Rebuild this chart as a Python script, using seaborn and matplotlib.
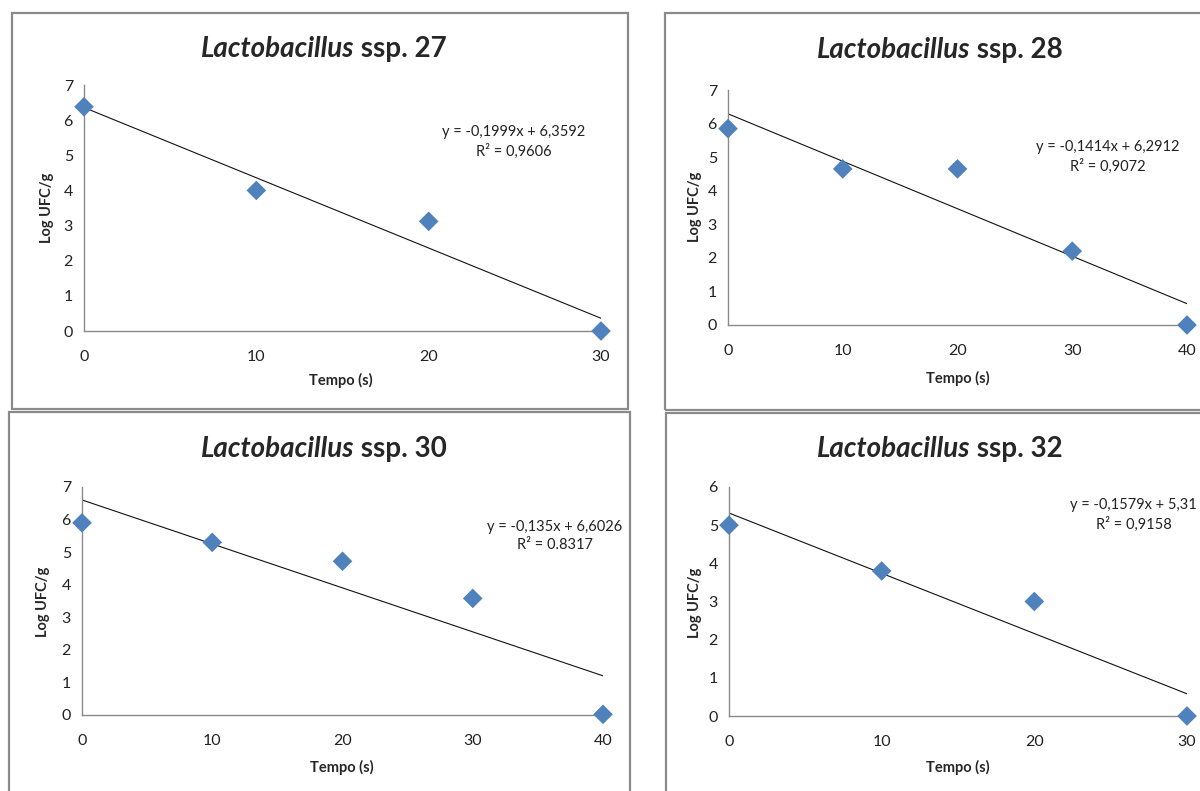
import matplotlib
matplotlib.use("Agg")
import matplotlib.pyplot as plt
import matplotlib.patches as patches
import seaborn as sns
import numpy as np
import pandas as pd

# data
tempo_27 = [0, 10, 20, 30]
ufc_27 = [6.38, 4.0, 3.12, 0.0]
fit_27 = (-0.1999, 6.3592)

tempo_28 = [0, 10, 20, 30, 40]
ufc_28 = [5.85, 4.65, 4.65, 2.2, 0.0]
fit_28 = (-0.1414, 6.2912)

tempo_30 = [0, 10, 20, 30, 40]
ufc_30 = [5.9, 5.3, 4.72, 3.58, 0.02]
fit_30 = (-0.135, 6.6026)

tempo_32 = [0, 10, 20, 30]
ufc_32 = [5.0, 3.8, 3.0, 0.0]
fit_32 = (-0.1579, 5.3184)

labels = ["27", "28", "30", "32"]
eq_text = ["y = -0,1999x + 6,3592\nR² = 0,9606",
           "y = -0,1414x + 6,2912\nR² = 0,9072",
           "y = -0,135x + 6,6026\nR² = 0.8317",
           "y = -0,1579x + 5,31\nR² = 0,9158"]

sns.set_theme(style="white")
plt.rcParams['font.family'] = ['Lato', 'DejaVu Sans']

W, H = 1200, 791
fig = plt.figure(figsize=(12, 7.91), dpi=100)

def fx(px):
    return px / W

def fy(py):
    return 1 - py / H

# panel layout in pixels: box, axes(x0,x1,ytop,y0), title(italic end, y), eq(x, y, align), ylabel(x,y), xlabel(x,y)
panels = [
    dict(t=tempo_27, u=ufc_27, fit=fit_27, ymax=7, xmax=30,
         box=(12, 13, 628, 409), ax=(84, 601, 85, 331),
         title=(354, 57), eq=(514, 142, "center"), yl=(47, 208), xl=(341, 380)),
    dict(t=tempo_28, u=ufc_28, fit=fit_28, ymax=7, xmax=40,
         box=(665, 13, 1215, 410), ax=(728, 1187, 90, 325),
         title=(970, 58), eq=(1108, 157, "center"), yl=(695, 207), xl=(958, 378)),
    dict(t=tempo_30, u=ufc_30, fit=fit_30, ymax=7, xmax=40,
         box=(9, 412, 630, 800), ax=(82, 603, 487, 715),
         title=(354, 457), eq=(555, 536, "center"), yl=(43, 602), xl=(342, 767)),
    dict(t=tempo_32, u=ufc_32, fit=fit_32, ymax=6, xmax=30,
         box=(666, 413, 1215, 800), ax=(729, 1187, 487, 716),
         title=(970, 457), eq=(1197, 515, "right"), yl=(695, 603), xl=(958, 767)),
]

for p, lab, eq in zip(panels, labels, eq_text):
    bx0, by0, bx1, by1 = p["box"]
    fig.patches.append(patches.Rectangle((fx(bx0), fy(by1)), fx(bx1 - bx0), (by1 - by0) / H,
                                         transform=fig.transFigure, fill=False,
                                         edgecolor="#8a8a8a", linewidth=1.6))
    ax0, ax1, ayt, ayb = p["ax"]
    ax = fig.add_axes([fx(ax0), fy(ayb), fx(ax1 - ax0), (ayb - ayt) / H])
    df = pd.DataFrame({"Tempo": p["t"], "UFC": p["u"]})
    slope, inter = p["fit"]
    xs = np.array([0, max(p["t"])])
    trend = pd.DataFrame({"x": xs, "y": inter + slope * xs})
    sns.lineplot(data=trend, x="x", y="y", ax=ax, color="#111111", linewidth=0.8)
    sns.scatterplot(data=df, x="Tempo", y="UFC", ax=ax, marker="D", s=100,
                    color="#4F81BD", edgecolor="none", zorder=3, clip_on=False)
    ax.set_xlim(0, p["xmax"])
    ax.set_ylim(0, p["ymax"])
    ax.set_xticks(range(0, p["xmax"] + 1, 10))
    ax.set_yticks(range(0, p["ymax"] + 1))
    ax.set_xlabel("")
    ax.set_ylabel("")
    for s in ["top", "right"]:
        ax.spines[s].set_visible(False)
    for s in ["left", "bottom"]:
        ax.spines[s].set_color("#8a8a8a")
        ax.spines[s].set_linewidth(1.0)
    ax.tick_params(axis="both", which="both", direction="out", length=5, width=1,
                   color="#8a8a8a", labelsize=11.5, labelcolor="#222222")
    ax.tick_params(axis="x", pad=9)
    ax.tick_params(axis="y", pad=3)
    ax.patch.set_alpha(0)

    tx, ty = p["title"]
    fig.text(fx(tx), fy(ty), "Lactobacillus", ha="right", va="baseline",
             fontsize=20, fontweight="bold", style="italic")
    fig.text(fx(tx), fy(ty), " ssp. " + lab, ha="left", va="baseline",
             fontsize=20, fontweight="bold")
    ex, ey, ea = p["eq"]
    fig.text(fx(ex), fy(ey), eq, ha=ea, va="center", fontsize=10.5,
             color="#222222", linespacing=1.35, multialignment="center")
    yx, yy = p["yl"]
    fig.text(fx(yx), fy(yy), "Log UFC/g", rotation=90, ha="center", va="center",
             fontsize=10.5, fontweight="bold")
    lx, ly = p["xl"]
    fig.text(fx(lx), fy(ly), "Tempo (s)", ha="center", va="center",
             fontsize=10.5, fontweight="bold")

fig.savefig("out.png", dpi=100, facecolor="white")
